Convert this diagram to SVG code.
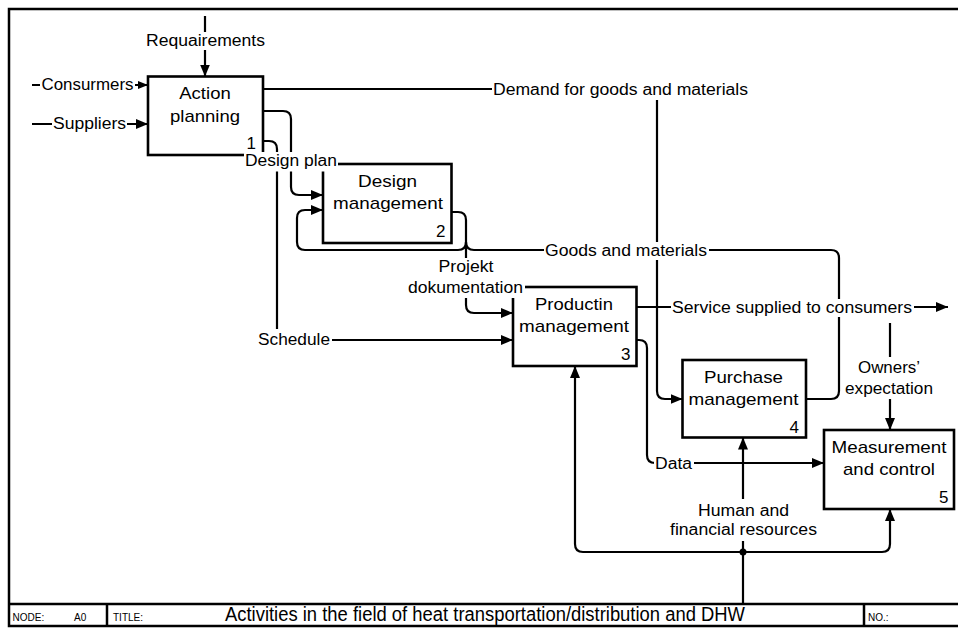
<svg xmlns="http://www.w3.org/2000/svg" width="958" height="628" viewBox="0 0 958 628">
<defs>
<style>
.frame{fill:none;stroke:#000;stroke-width:2.5}
.box{fill:#fff;stroke:#000;stroke-width:2.6}
.cn{fill:none;stroke:#000;stroke-width:2.2}
.bg{fill:#fff}
.lbl{font-family:"Liberation Sans",Arial,sans-serif;font-size:16px;fill:#000}
.bt{font-family:"Liberation Sans",Arial,sans-serif;font-size:17px;fill:#000}
.sm{font-family:"Liberation Sans",Arial,sans-serif;font-size:10px;fill:#000}
.ttl{font-family:"Liberation Sans",Arial,sans-serif;font-size:20px;fill:#000}
.mid{text-anchor:middle}
.end{text-anchor:end}
</style>
<marker id="ah" markerUnits="userSpaceOnUse" viewBox="0 0 12 10" markerWidth="12" markerHeight="10" refX="12" refY="5" orient="auto"><path d="M0,0 L12,5 L0,10 z" fill="#000"/></marker>
<marker id="ahs" markerUnits="userSpaceOnUse" viewBox="0 0 10 8" markerWidth="10" markerHeight="8" refX="10" refY="4" orient="auto"><path d="M0,0 L10,4 L0,8 z" fill="#000"/></marker>
</defs>
<rect x="0" y="0" width="958" height="628" fill="#fff"/>
<g id="frame">
<rect class="frame" x="9" y="9" width="960" height="617"/>
<line class="frame" x1="9" y1="604" x2="958" y2="604"/>
<line class="frame" x1="107" y1="604" x2="107" y2="626"/>
<line class="frame" x1="864" y1="604" x2="864" y2="626"/>
<text class="sm" x="12.5" y="621">NODE:</text>
<text class="sm" x="74" y="621">A0</text>
<text class="sm" x="113" y="621">TITLE:</text>
<text class="ttl" x="225" y="621" textLength="520" lengthAdjust="spacingAndGlyphs">Activities in the field of heat transportation/distribution and DHW</text>
<text class="sm" x="868" y="621">NO.:</text>
</g>
<g id="connectors">
<path class="cn" d="M205,16 V76.5" marker-end="url(#ah)"/>
<path class="cn" d="M32,85 H148" marker-end="url(#ahs)"/>
<path class="cn" d="M32,124 H148" marker-end="url(#ah)"/>
<path class="cn" d="M263,89 H494"/>
<path class="cn" d="M657,100 V391 Q657,399 665,399 H682.5" marker-end="url(#ah)"/>
<path class="cn" d="M263,111 H283 Q291,111 291,119 V187 Q291,195 299,195 H323" marker-end="url(#ah)"/>
<path class="cn" d="M263,141 H269 Q277,141 277,149 V329"/>
<path class="cn" d="M331,340 H513" marker-end="url(#ah)"/>
<path class="cn" d="M451.5,212 H458 Q466,212 466,220 V260"/>
<path class="cn" d="M466,297 V305 Q466,313 474,313 H513" marker-end="url(#ah)"/>
<path class="cn" d="M466,242 Q466,250 458,250 H305 Q297,250 297,242 V218 Q297,210 305,210 H323" marker-end="url(#ah)"/>
<path class="cn" d="M806,399 H831 Q839,399 839,391 V258 Q839,250 831,250 H474 Q466,250 466,242"/>
<path class="cn" d="M636.5,307 H948" marker-end="url(#ah)"/>
<path class="cn" d="M890,323 V357"/>
<path class="cn" d="M890,399 V430" marker-end="url(#ah)"/>
<path class="cn" d="M636.5,340 H639 Q647,340 647,348 V455 Q647,463 655,463 H824" marker-end="url(#ah)"/>
<path class="cn" d="M743,604 V437.5" marker-end="url(#ah)"/>
<path class="cn" d="M743,552 H583 Q575,552 575,544 V366" marker-end="url(#ah)"/>
<path class="cn" d="M743,552 H882 Q890,552 890,544 V509" marker-end="url(#ah)"/>
<circle cx="743" cy="552" r="3.5" fill="#000"/>
</g>
<g id="node1">
<rect class="box" x="148" y="76.5" width="115" height="78.5"/>
<text class="bt mid" x="205" y="99" textLength="51.5" lengthAdjust="spacingAndGlyphs">Action</text>
<text class="bt mid" x="205" y="121.5" textLength="70" lengthAdjust="spacingAndGlyphs">planning</text>
<text class="bt end" x="256" y="148.5">1</text>
</g>
<g id="node2">
<rect class="box" x="323" y="164" width="128.5" height="79"/>
<text class="bt mid" x="387.5" y="187" textLength="59" lengthAdjust="spacingAndGlyphs">Design</text>
<text class="bt mid" x="388" y="209" textLength="110" lengthAdjust="spacingAndGlyphs">management</text>
<text class="bt end" x="445.5" y="237">2</text>
</g>
<g id="node3">
<rect class="box" x="513" y="287" width="123.5" height="79"/>
<text class="bt mid" x="574" y="310" textLength="78" lengthAdjust="spacingAndGlyphs">Productin</text>
<text class="bt mid" x="574" y="332" textLength="110" lengthAdjust="spacingAndGlyphs">management</text>
<text class="bt end" x="630.5" y="360">3</text>
</g>
<g id="node4">
<rect class="box" x="682.5" y="360" width="123.5" height="77.5"/>
<text class="bt mid" x="743.5" y="383" textLength="79" lengthAdjust="spacingAndGlyphs">Purchase</text>
<text class="bt mid" x="743.5" y="405" textLength="110" lengthAdjust="spacingAndGlyphs">management</text>
<text class="bt end" x="799" y="433">4</text>
</g>
<g id="node5">
<rect class="box" x="824" y="430" width="130" height="79"/>
<text class="bt mid" x="889" y="452.5" textLength="115" lengthAdjust="spacingAndGlyphs">Measurement</text>
<text class="bt mid" x="889" y="475" textLength="92" lengthAdjust="spacingAndGlyphs">and control</text>
<text class="bt end" x="948.5" y="503">5</text>
</g>
<g id="connector-labels">
<rect class="bg" x="145" y="32" width="122" height="18"/>
<text class="lbl mid" x="205.5" y="46" textLength="119" lengthAdjust="spacingAndGlyphs">Requairements</text>
<rect class="bg" x="40" y="76" width="95" height="18"/>
<text class="lbl" x="41.5" y="90" textLength="92" lengthAdjust="spacingAndGlyphs">Consurmers</text>
<rect class="bg" x="52" y="115" width="75" height="18"/>
<text class="lbl" x="53" y="129" textLength="73" lengthAdjust="spacingAndGlyphs">Suppliers</text>
<rect class="bg" x="244" y="152" width="94" height="19.5"/>
<text class="lbl" x="245" y="165.5" textLength="92" lengthAdjust="spacingAndGlyphs">Design plan</text>
<rect class="bg" x="492" y="81" width="258" height="18"/>
<text class="lbl" x="493" y="95" textLength="255" lengthAdjust="spacingAndGlyphs">Demand for goods and materials</text>
<rect class="bg" x="544" y="242" width="165" height="18"/>
<text class="lbl" x="545" y="256" textLength="162" lengthAdjust="spacingAndGlyphs">Goods and materials</text>
<rect class="bg" x="436" y="258" width="59" height="18"/>
<text class="lbl mid" x="466" y="271.5" textLength="55" lengthAdjust="spacingAndGlyphs">Projekt</text>
<rect class="bg" x="406" y="279" width="119" height="19"/>
<text class="lbl mid" x="465.5" y="292.5" textLength="115" lengthAdjust="spacingAndGlyphs">dokumentation</text>
<rect class="bg" x="256" y="331" width="76" height="18"/>
<text class="lbl" x="258" y="345" textLength="72" lengthAdjust="spacingAndGlyphs">Schedule</text>
<rect class="bg" x="671" y="299" width="243" height="18"/>
<text class="lbl" x="672" y="313" textLength="240" lengthAdjust="spacingAndGlyphs">Service supplied to consumers</text>
<text class="lbl mid" x="889" y="373" textLength="62" lengthAdjust="spacingAndGlyphs">Owners’</text>
<text class="lbl mid" x="889" y="393.5" textLength="88" lengthAdjust="spacingAndGlyphs">expectation</text>
<rect class="bg" x="654" y="455" width="40" height="17"/>
<text class="lbl" x="655" y="468.5" textLength="37" lengthAdjust="spacingAndGlyphs">Data</text>
<rect class="bg" x="668" y="499" width="151" height="42"/>
<text class="lbl mid" x="743.5" y="516" textLength="91" lengthAdjust="spacingAndGlyphs">Human and</text>
<text class="lbl mid" x="743.5" y="535" textLength="147" lengthAdjust="spacingAndGlyphs">financial resources</text>
</g>
</svg>
